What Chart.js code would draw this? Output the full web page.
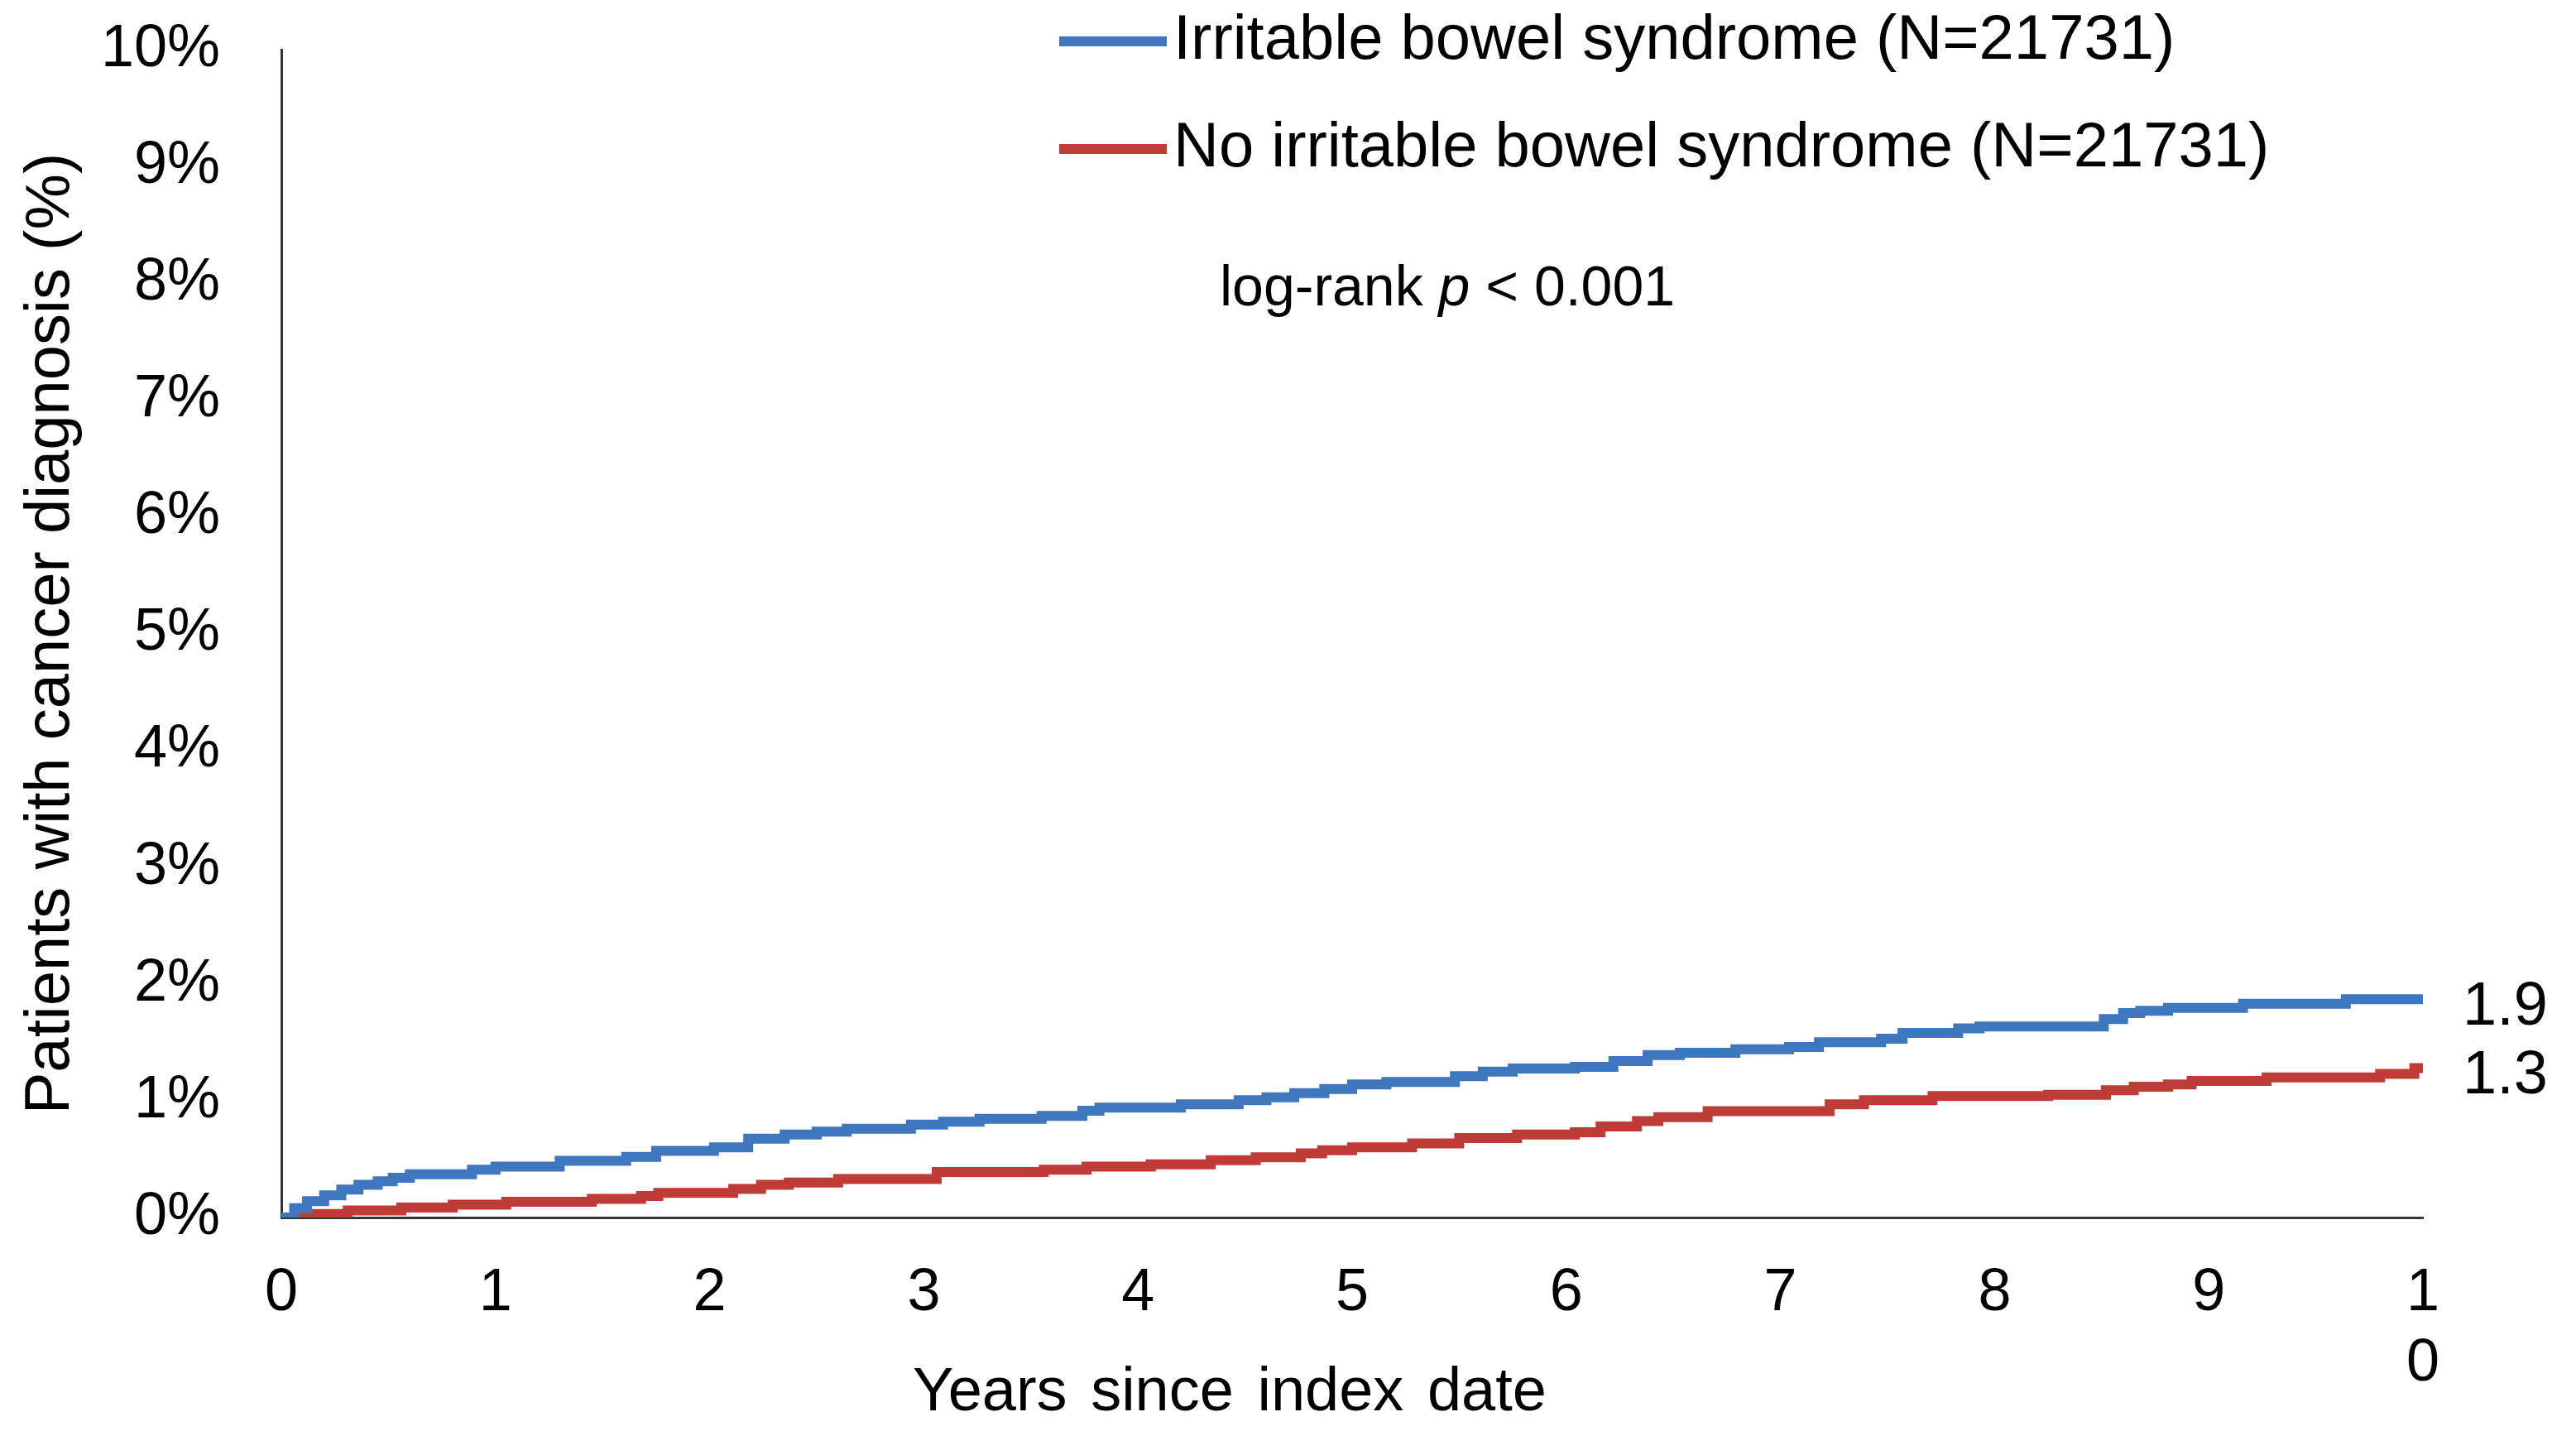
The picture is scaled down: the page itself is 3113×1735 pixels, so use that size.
<!DOCTYPE html>
<html>
<head>
<meta charset="utf-8">
<script src="https://cdn.jsdelivr.net/npm/chart.js@4.4.1/dist/chart.umd.min.js"></script>
<style>
    html, body { margin: 0; padding: 0; background: #ffffff; }
    #wrap { width: 3113px; height: 1735px; }
</style>
</head>
<body>
<div id="wrap"><canvas id="kmChart"></canvas></div>
<script>
// step start (years) and cumulative percent
const ibsYears = [0, 0.06, 0.12, 0.2, 0.28, 0.36, 0.45, 0.52, 0.6, 0.89, 1.0, 1.3, 1.61, 1.75, 2.02, 2.18, 2.35, 2.5, 2.64, 2.94,
    3.09, 3.26, 3.55, 3.74, 3.82, 4.2, 4.47, 4.6, 4.73, 4.87, 5.0, 5.16, 5.48, 5.61, 5.75, 6.04, 6.22, 6.38, 6.53, 6.79,
    7.04, 7.18, 7.47, 7.57, 7.83, 7.93, 8.51, 8.6, 8.68, 8.81, 9.16, 9.64, 10];
const ibsPercent = [0, 0.08, 0.14, 0.19, 0.24, 0.28, 0.31, 0.34, 0.37, 0.41, 0.435, 0.485, 0.52, 0.57, 0.6, 0.675, 0.71, 0.735, 0.76, 0.795,
    0.82, 0.845, 0.87, 0.915, 0.94, 0.97, 1.005, 1.03, 1.065, 1.1, 1.14, 1.16, 1.21, 1.25, 1.275, 1.29, 1.34, 1.39, 1.41, 1.44,
    1.46, 1.5, 1.53, 1.58, 1.62, 1.635, 1.7, 1.75, 1.77, 1.795, 1.83, 1.87, 1.87];

const noIbsYears = [0, 0.08, 0.31, 0.56, 0.8, 1.05, 1.45, 1.68, 1.76, 2.11, 2.24, 2.37, 2.6, 3.06, 3.56, 3.76, 4.06, 4.34, 4.55, 4.76,
    4.86, 5.0, 5.28, 5.5, 5.77, 6.04, 6.16, 6.33, 6.43, 6.66, 7.23, 7.39, 7.71, 8.25, 8.52, 8.65, 8.81, 8.92, 9.27, 9.8, 9.96, 10];
const noIbsPercent = [0, 0.03, 0.06, 0.085, 0.11, 0.135, 0.16, 0.185, 0.21, 0.245, 0.28, 0.3, 0.33, 0.39, 0.41, 0.435, 0.455, 0.49, 0.515, 0.55,
    0.575, 0.6, 0.635, 0.68, 0.71, 0.73, 0.78, 0.825, 0.86, 0.91, 0.97, 1.005, 1.04, 1.05, 1.09, 1.12, 1.14, 1.17, 1.2, 1.23, 1.28, 1.28];

const seriesNames = ['Irritable bowel syndrome (N=21731)', 'No irritable bowel syndrome (N=21731)'];
const seriesColors = ['#3f77bf', '#bf3b36'];
const endLabels = ['1.9', '1.3'];
const xTickLabels = ['0', '1', '2', '3', '4', '5', '6', '7', '8', '9', '1\n0'];
const yTickLabels = ['0%', '1%', '2%', '3%', '4%', '5%', '6%', '7%', '8%', '9%', '10%'];

const FONT = '"Liberation Sans", Arial, sans-serif';

function toPoints(xs, ys) {
    let points = [];
    for (let i = 0; i < xs.length; i++) {
        points.push({ x: xs[i], y: ys[i] });
    }
    return points;
}

// legend, p-value note, end values and x title
const extraText = {
    id: 'extraText',
    afterDraw(chart) {
        const ctx = chart.ctx;
        const area = chart.chartArea;
        const yScale = chart.scales.y;
        ctx.save();
        ctx.fillStyle = '#000';
        ctx.textBaseline = 'middle';

        // legend
        const legendY = [50, 180];
        ctx.font = '76px ' + FONT;
        for (let i = 0; i < seriesNames.length; i++) {
            ctx.strokeStyle = seriesColors[i];
            ctx.lineWidth = 12;
            ctx.beginPath();
            ctx.moveTo(1280, legendY[i]);
            ctx.lineTo(1410, legendY[i]);
            ctx.stroke();
            ctx.textAlign = 'left';
            ctx.fillText(seriesNames[i], 1418, legendY[i]);
        }

        // log-rank note with italic p
        let x = 1474;
        ctx.font = '68px ' + FONT;
        ctx.fillText('log-rank ', x, 350);
        x += ctx.measureText('log-rank ').width;
        ctx.font = 'italic 68px ' + FONT;
        ctx.fillText('p', x, 350);
        x += ctx.measureText('p ').width;
        ctx.font = '68px ' + FONT;
        ctx.fillText('< 0.001', x, 350);

        // values at the end of each curve
        ctx.font = '74px ' + FONT;
        const lastValues = [ibsPercent[ibsPercent.length - 1], noIbsPercent[noIbsPercent.length - 1]];
        for (let i = 0; i < endLabels.length; i++) {
            ctx.fillText(endLabels[i], area.right + 48, yScale.getPixelForValue(lastValues[i]) + 10);
        }

        // x axis title, sits left of centre in the original
        ctx.font = '74px ' + FONT;
        ctx.wordSpacing = '8px';
        ctx.textAlign = 'center';
        ctx.fillText('Years since index date', 1486, 1684);
        ctx.restore();
    }
};

const ctx = document.getElementById('kmChart').getContext('2d');
new Chart(ctx, {
    type: 'line',
    data: {
        datasets: [{
            label: seriesNames[0],
            data: toPoints(ibsYears, ibsPercent),
            borderColor: seriesColors[0],
            borderWidth: 12,
            stepped: 'before',
            pointRadius: 0,
            fill: false
        }, {
            label: seriesNames[1],
            data: toPoints(noIbsYears, noIbsPercent),
            borderColor: seriesColors[1],
            borderWidth: 12,
            stepped: 'before',
            pointRadius: 0,
            fill: false
        }]
    },
    options: {
        responsive: true,
        maintainAspectRatio: false,
        animation: false,
        devicePixelRatio: 1,
        layout: {
            autoPadding: false,
            padding: { left: 0, right: 185, top: 60, bottom: 0 }
        },
        scales: {
            x: {
                type: 'linear',
                min: 0,
                max: 10,
                grid: { display: false },
                border: { display: true, color: '#333', width: 3 },
                afterFit: function (scale) {
                    scale.height = 264;
                    scale.paddingLeft = 0;
                    scale.paddingRight = 0;
                },
                ticks: {
                    stepSize: 1,
                    padding: 42,
                    color: '#000',
                    font: { family: FONT, size: 72, lineHeight: 1.18 },
                    maxRotation: 0,
                    autoSkip: false,
                    callback: function (value) { return xTickLabels[value].split('\n'); }
                }
            },
            y: {
                min: 0,
                max: 10,
                grid: { display: false },
                border: { display: true, color: '#333', width: 3 },
                afterFit: function (scale) {
                    scale.width = 340;
                    scale.paddingTop = 0;
                    scale.paddingBottom = 0;
                },
                ticks: {
                    stepSize: 1,
                    padding: 66,
                    color: '#000',
                    font: { family: FONT, size: 72 },
                    callback: function (value) { return yTickLabels[value]; }
                },
                title: {
                    display: true,
                    text: 'Patients with cancer diagnosis (%)',
                    color: '#000',
                    font: { family: FONT, size: 76, lineHeight: 1.2 },
                    padding: { top: 16, bottom: 0 }
                }
            }
        },
        plugins: {
            legend: { display: false },
            tooltip: { enabled: false }
        }
    },
    plugins: [extraText]
});
</script>
</body>
</html>
